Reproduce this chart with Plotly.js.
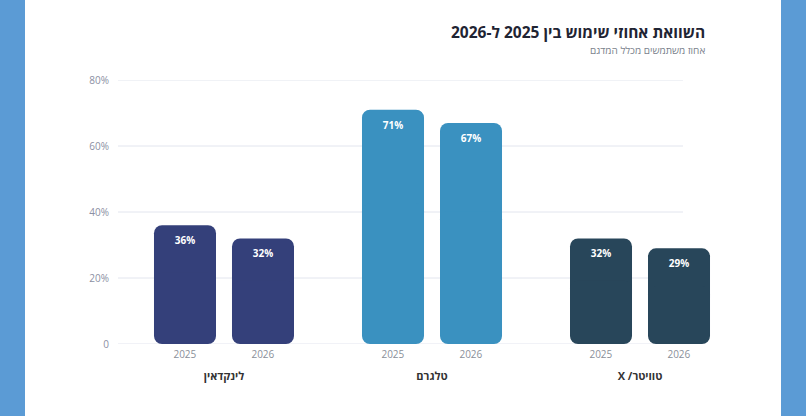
<!DOCTYPE html>
<html>
<head>
<meta charset="utf-8">
<script src="https://cdn.plot.ly/plotly-3.0.1.min.js"></script>
<style>
  html, body { margin: 0; padding: 0; background: #5b9bd5; }
  #chart { position: absolute; left: 25px; top: 0; width: 756px; height: 416px; background: #ffffff; }
</style>
</head>
<body>
<div id="chart"></div>
<script>
const platforms = ['לינקדאין', 'טלגרם', 'X /טוויטר'];
const years = ['2025', '2026'];
const values2025 = [36, 71, 32];
const values2026 = [32, 67, 29];
const barColors = ['#34407a', '#3a91c0', '#28465a'];
const yTickVals = [0, 20, 40, 60, 80];
const yTickText = ['0', '20%', '40%', '60%', '80%'];

const chartTitle = 'השוואת אחוזי שימוש בין 2025 ל-2026';
const chartSubtitle = 'אחוז משתמשים מכלל המדגם';

const fontFamily = '"Open Sans", "Noto Sans", "DejaVu Sans", sans-serif';

// each bar is drawn as two overlapping halves so that both ends get rounded corners
let traces = [];
[values2025, values2026].forEach((vals, i) => {
  traces.push({
    type: 'bar',
    x: platforms,
    base: vals.map(v => v * 0.4),
    y: vals.map(v => v * 0.6),
    offsetgroup: years[i],
    marker: { color: barColors, cornerradius: 8, line: { width: 0 } },
    text: vals.map(v => v + '%'),
    textposition: 'inside',
    insidetextanchor: 'end',
    textangle: 0,
    insidetextfont: { family: fontFamily, size: 10, color: '#ffffff', weight: 'bold' },
    hoverinfo: 'skip',
    showlegend: false
  });
  traces.push({
    type: 'bar',
    x: platforms,
    base: vals.map(v => v * 0.6),
    y: vals.map(v => -v * 0.6),
    offsetgroup: years[i],
    marker: { color: barColors, cornerradius: 8, line: { width: 0 } },
    text: vals.map(() => years[i]),
    textposition: 'outside',
    textangle: 0,
    outsidetextfont: { family: fontFamily, size: 10, color: '#8a8f99' },
    cliponaxis: false,
    hoverinfo: 'skip',
    showlegend: false
  });
});

// grid lines stop short of the last bar, as in the original
let gridShapes = yTickVals.map(v => ({
  type: 'line',
  layer: 'below',
  xref: 'paper', x0: 0, x1: 0.9385,
  yref: 'y', y0: v, y1: v,
  line: { color: '#e2e5ee', width: 1 }
}));

Plotly.newPlot('chart', traces, {
  width: 756,
  height: 416,
  margin: { l: 93, r: 61, t: 80, b: 72 },
  paper_bgcolor: '#ffffff',
  plot_bgcolor: '#ffffff',
  barmode: 'group',
  bargap: 0.25,
  bargroupgap: 0.205,
  shapes: gridShapes,
  annotations: [
    {
      text: '<b>' + chartTitle + '</b>',
      xref: 'paper', x: 0.978, xanchor: 'right',
      yref: 'paper', y: 1.180, yanchor: 'middle',
      showarrow: false,
      font: { family: fontFamily, size: 15.5, color: '#1f2433' }
    },
    {
      text: chartSubtitle,
      xref: 'paper', x: 0.978, xanchor: 'right',
      yref: 'paper', y: 1.112, yanchor: 'middle',
      showarrow: false,
      font: { family: fontFamily, size: 10, color: '#7a7f8c' }
    }
  ],
  xaxis: {
    type: 'category',
    range: [-0.5096, 2.3846],
    showgrid: false,
    showline: false,
    zeroline: false,
    ticks: '',
    ticklabelstandoff: 24,
    tickfont: { family: fontFamily, size: 11, color: '#333333', weight: 'bold' }
  },
  yaxis: {
    range: [0, 80],
    tickvals: yTickVals,
    ticktext: yTickText,
    showgrid: false,
    zeroline: false,
    showline: false,
    ticks: '',
    ticklabelstandoff: 8,
    tickfont: { family: fontFamily, size: 10, color: '#8b8fa3' }
  },
  font: { family: fontFamily }
}, { displayModeBar: false, staticPlot: true });
</script>
</body>
</html>
